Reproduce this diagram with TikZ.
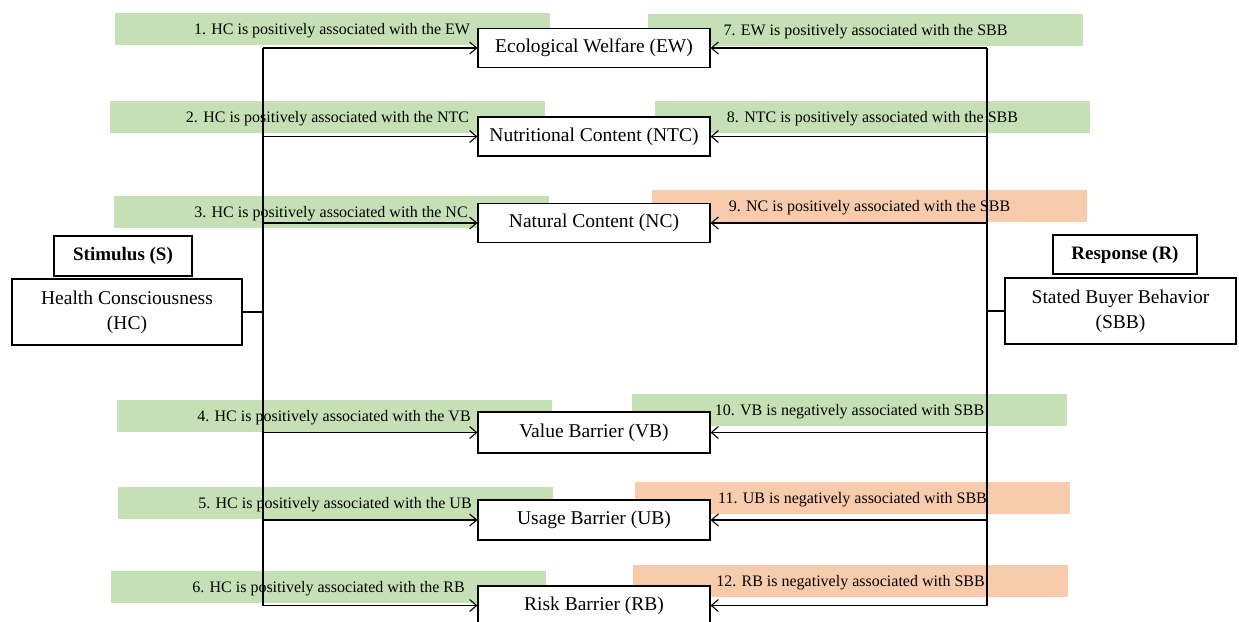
\documentclass[tikz,border=0pt]{standalone}
\usepackage{fontspec}
\setmainfont{Liberation Serif}
\usetikzlibrary{arrows.meta}
\definecolor{bandgreen}{RGB}{197,224,180}
\definecolor{bandsalmon}{RGB}{248,203,173}
\begin{document}
\begin{tikzpicture}[x=1pt,y=-1pt,
  band/.style={minimum width=435pt,minimum height=32pt,inner sep=0pt,text depth=0pt,font=\fontsize{16}{18}\selectfont},
  gband/.style={band,fill=bandgreen},
  sband/.style={band,fill=bandsalmon},
  midbox/.style={draw,line width=1.1pt,fill=white,minimum width=232pt,minimum height=39pt,inner sep=0pt,font=\fontsize{19.5}{22}\selectfont},
  sidebox/.style={draw,line width=1.1pt,fill=white,inner sep=0pt,align=center,font=\fontsize{19.5}{25}\selectfont},
  headbox/.style={draw,line width=1.1pt,fill=white,inner sep=0pt,font=\bfseries\fontsize{19}{22}\selectfont},
  conn/.style={line width=1.1pt},
  arr/.style={conn,-{Straight Barb[length=7pt,width=12pt,line width=1.1pt]}}]
\clip (0,0) rectangle (1239,621);
\fill[white] (0,0) rectangle (1239,621);
% bands
\node[gband] (b1) at (332,29) {1. HC is positively associated with the EW};
\node[gband] (b2) at (327.5,117) {2. HC is positively associated with the NTC};
\node[gband] (b3) at (331,212) {3. HC is positively associated with the NC};
\node[gband] (b4) at (334,416) {4. HC is positively associated with the VB};
\node[gband] (b5) at (335,503) {5. HC is positively associated with the UB};
\node[gband] (b6) at (328.5,587) {6. HC is positively associated with the RB};
\node[gband] (b7) at (865.5,30) {7. EW is positively associated with the SBB};
\node[gband] (b8) at (872.5,117) {8. NTC is positively associated with the SBB};
\node[sband] (b9) at (869.5,206) {9. NC is positively associated with the SBB};
\node[gband] (b10) at (849.5,410) {10. VB is negatively associated with SBB};
\node[sband] (b11) at (852.5,497.5) {11. UB is negatively associated with SBB};
\node[sband] (b12) at (850.5,580.5) {12. RB is negatively associated with SBB};
% middle boxes
\node[midbox] (EW) at (594,48) {Ecological Welfare (EW)};
\node[midbox] (NTC) at (594,136.5) {Nutritional Content (NTC)};
\node[midbox] (NC) at (594,223) {Natural Content (NC)};
\node[midbox,minimum height=41pt] (VB) at (594,432.5) {Value Barrier (VB)};
\node[midbox,minimum height=40pt] (UB) at (594,520) {Usage Barrier (UB)};
\node[midbox] (RB) at (594,605.5) {Risk Barrier (RB)};
% side boxes
\node[headbox,minimum width=138pt,minimum height=40pt] (S) at (123,256) {Stimulus (S)};
\node[sidebox,minimum width=230pt,minimum height=66pt] (HC) at (127,312) {Health Consciousness\\(HC)};
\node[headbox,minimum width=144pt,minimum height=39pt] (R) at (1125,254.5) {Response (R)};
\node[sidebox,minimum width=231pt,minimum height=66pt] (SBB) at (1120.5,311) {Stated Buyer Behavior\\(SBB)};
% trunks
\coordinate (lx) at (263,0);
\coordinate (rx) at (987,0);
\draw[conn] (HC.east) -- (HC.east -| lx);
\draw[conn] (SBB.west) -- (SBB.west -| rx);
\draw[conn] (lx |- EW.west) -- (lx |- RB.west);
\draw[conn] (rx |- EW.east) -- (rx |- RB.east);
\foreach \n in {EW,NTC,NC,VB,UB,RB}{
  \draw[arr] (lx |- \n.west) -- (\n.west);
  \draw[arr] (rx |- \n.east) -- (\n.east);
}
\end{tikzpicture}
\end{document}
